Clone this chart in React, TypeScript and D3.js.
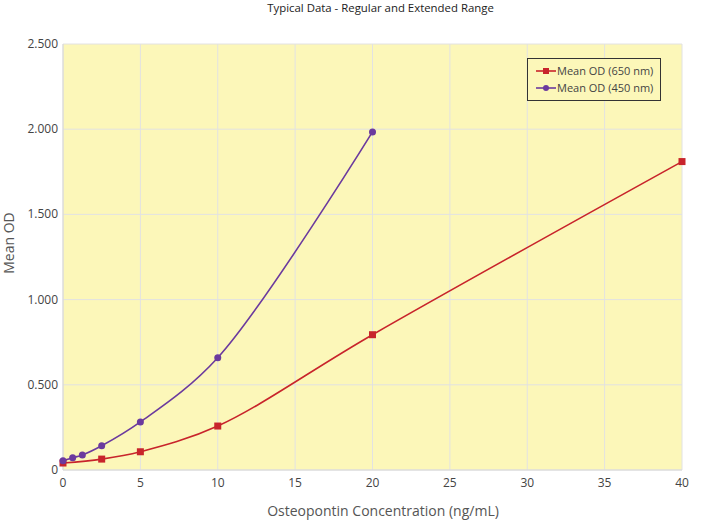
import React from "react";
import * as d3 from "d3";

const conc650 = [0, 2.5, 5, 10, 20, 40];
const od650 = [0.041, 0.064, 0.107, 0.258, 0.794, 1.81];
const conc450 = [0, 0.625, 1.25, 2.5, 5, 10, 20];
const od450 = [0.055, 0.072, 0.088, 0.142, 0.282, 0.659, 1.984];
const xTicks = [0, 5, 10, 15, 20, 25, 30, 35, 40];
const yTicks = [0, 0.5, 1, 1.5, 2, 2.5];
const yTickLabels = ["0", "0.500", "1.000", "1.500", "2.000", "2.500"];
const seriesNames = ["Mean OD (650 nm)", "Mean OD (450 nm)"];

const W = 707, H = 532;
const L = 63, R = 682, T = 44, B = 470;
const RED = "#c8242b";
const PURPLE = "#6b3a9e";
const FONT = "'Open Sans', sans-serif";

export default function App() {
  const x = d3.scaleLinear().domain([0, 40]).range([L, R]);
  const y = d3.scaleLinear().domain([0, 2.5]).range([B, T]);
  const line = d3
    .line<[number, number]>()
    .x((d) => x(d[0]))
    .y((d) => y(d[1]))
    .curve(d3.curveCatmullRom.alpha(0.5));
  const d650 = conc650.map((c, i) => [c, od650[i]] as [number, number]);
  const d450 = conc450.map((c, i) => [c, od450[i]] as [number, number]);

  return (
    <svg width={W} height={H} style={{ position: "absolute", left: 0, top: 0, fontFamily: FONT }}>
      <rect x={0} y={0} width={W} height={H} fill="#fff" />
      <text x={W / 2 + 27} y={12} textAnchor="middle" fontSize={11.4} fill="#222">
        Typical Data - Regular and Extended Range
      </text>
      <rect x={L} y={T} width={R - L} height={B - T} fill="#fcf7b9" />
      {xTicks.map((t) => (
        <line key={"gx" + t} x1={x(t)} x2={x(t)} y1={T} y2={B} stroke="#e2e2e2" strokeWidth={1} />
      ))}
      {yTicks.map((t) => (
        <line key={"gy" + t} x1={L} x2={R} y1={y(t)} y2={y(t)} stroke="#e2e2e2" strokeWidth={1} />
      ))}
      <line x1={L} x2={L} y1={T} y2={B} stroke="#d8d8d8" />
      <line x1={L} x2={R} y1={B} y2={B} stroke="#d8d8d8" />
      {xTicks.map((t) => (
        <text key={"tx" + t} x={x(t)} y={487} textAnchor="middle" fontSize={12} fill="#444">
          {t}
        </text>
      ))}
      {yTicks.map((t, i) => (
        <text key={"ty" + t} x={58} y={y(t) + 4} textAnchor="end" fontSize={12} fill="#444">
          {yTickLabels[i]}
        </text>
      ))}
      <text x={383} y={516} textAnchor="middle" fontSize={14} fill="#555">
        Osteopontin Concentration (ng/mL)
      </text>
      <text transform={`translate(14,243) rotate(-90)`} textAnchor="middle" fontSize={14} fill="#555">
        Mean OD
      </text>

      <path d={line(d650) || ""} fill="none" stroke={RED} strokeWidth={1.6} />
      <path d={line(d450) || ""} fill="none" stroke={PURPLE} strokeWidth={1.6} />
      {d650.map((d, i) => (
        <rect key={"r" + i} x={x(d[0]) - 3.5} y={y(d[1]) - 3.5} width={7} height={7} fill={RED} />
      ))}
      {d450.map((d, i) => (
        <circle key={"c" + i} cx={x(d[0])} cy={y(d[1])} r={3.5} fill={PURPLE} />
      ))}

      <g>
        <rect x={527.5} y={58.5} width={133} height={42} fill="#fcf7b9" stroke="#333" strokeWidth={1} />
        {[RED, PURPLE].map((c, i) => {
          const yy = 71 + i * 17;
          return (
            <g key={"lg" + i}>
              <line x1={536} x2={556} y1={yy} y2={yy} stroke={c} strokeWidth={1.6} />
              {i === 0 ? (
                <rect x={546 - 3} y={yy - 3} width={6} height={6} fill={c} />
              ) : (
                <circle cx={546} cy={yy} r={3} fill={c} />
              )}
              <text x={557} y={yy + 4} fontSize={11} fill="#444">
                {seriesNames[i]}
              </text>
            </g>
          );
        })}
      </g>
    </svg>
  );
}
